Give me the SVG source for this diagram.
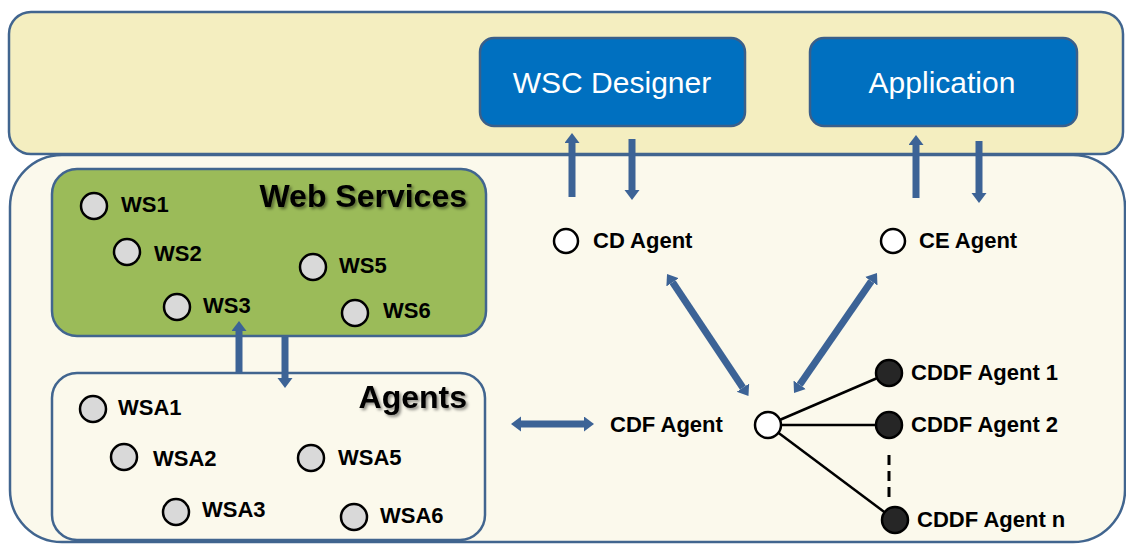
<svg xmlns="http://www.w3.org/2000/svg" width="1126" height="544" viewBox="0 0 1126 544">
  <style>
    .panel { stroke: #41658f; stroke-width: 2.5; }
    .blue { fill: #0070c0; stroke: #3a5f8a; stroke-width: 2.5; }
    .btitle { font-family: "Liberation Sans", Arial, sans-serif; font-size: 30px; fill: #ffffff; text-anchor: middle; }
    .lbl { font-family: "Liberation Sans", Arial, sans-serif; font-size: 22px; font-weight: bold; fill: #000000; }
    .big { font-family: "Liberation Sans", Arial, sans-serif; font-size: 32px; font-weight: bold; fill: #000000; text-anchor: end; }
    .gray { fill: #d9d9d9; stroke: #000000; stroke-width: 2.5; }
    .white { fill: #ffffff; stroke: #000000; stroke-width: 2.5; }
    .dark { fill: #262626; stroke: #000000; stroke-width: 2.5; }
    .flow { fill: none; stroke: #3c6396; stroke-width: 7; }
    .link { fill: none; stroke: #000000; stroke-width: 2.5; }
  </style>
  <defs>
    <marker id="head" markerUnits="userSpaceOnUse" markerWidth="12" markerHeight="16" refX="0" refY="7.5" orient="auto-start-reverse">
      <path d="M0,0 L10,7.5 L0,15 z" fill="#3c6396"/>
    </marker>
    <filter id="shadow" x="-10%" y="-20%" width="130%" height="150%">
      <feDropShadow dx="2" dy="2" stdDeviation="1.5" flood-color="#000000" flood-opacity="0.45"/>
    </filter>
  </defs>

  <!-- lower panel (agents layer) -->
  <rect id="agent-layer" class="panel" x="10" y="155" width="1115" height="387" rx="52" fill="#fbf9ec"/>
  <!-- upper panel (client layer) -->
  <rect id="client-layer" class="panel" x="9" y="12" width="1114" height="142" rx="22" fill="#f4eec0"/>

  <g id="wsc-designer">
    <rect class="blue" x="480" y="38" width="265" height="88" rx="14"/>
    <text class="btitle" x="612" y="93">WSC Designer</text>
  </g>
  <g id="application">
    <rect class="blue" x="810" y="38" width="267" height="88" rx="14"/>
    <text class="btitle" x="942" y="93">Application</text>
  </g>

  <g id="web-services">
    <rect class="panel" x="52" y="169" width="434" height="167" rx="25" fill="#9bbb59"/>
    <text class="big" x="467" y="207" filter="url(#shadow)">Web Services</text>
    <g id="ws1"><circle class="gray" cx="94" cy="206" r="13"/><text class="lbl" x="121" y="212">WS1</text></g>
    <g id="ws2"><circle class="gray" cx="127" cy="252" r="13"/><text class="lbl" x="154" y="261">WS2</text></g>
    <g id="ws3"><circle class="gray" cx="177" cy="307" r="13"/><text class="lbl" x="203" y="313">WS3</text></g>
    <g id="ws5"><circle class="gray" cx="313" cy="267" r="13"/><text class="lbl" x="339" y="273">WS5</text></g>
    <g id="ws6"><circle class="gray" cx="355" cy="313" r="13"/><text class="lbl" x="383" y="318">WS6</text></g>
  </g>

  <g id="agents">
    <rect class="panel" x="52" y="373" width="433" height="167" rx="25" fill="#fbf9ec"/>
    <text class="big" x="467" y="408" filter="url(#shadow)">Agents</text>
    <g id="wsa1"><circle class="gray" cx="93" cy="409" r="13"/><text class="lbl" x="118" y="415">WSA1</text></g>
    <g id="wsa2"><circle class="gray" cx="124" cy="457" r="13"/><text class="lbl" x="153" y="466">WSA2</text></g>
    <g id="wsa3"><circle class="gray" cx="176" cy="512" r="13"/><text class="lbl" x="202" y="517">WSA3</text></g>
    <g id="wsa5"><circle class="gray" cx="311" cy="458" r="13"/><text class="lbl" x="338" y="465">WSA5</text></g>
    <g id="wsa6"><circle class="gray" cx="354" cy="517" r="13"/><text class="lbl" x="380" y="523">WSA6</text></g>
  </g>

  <g id="connectors">
    <!-- client layer <-> CD / CE agents -->
    <path class="flow" d="M572,197 L572,143" marker-end="url(#head)"/>
    <path class="flow" d="M632,139 L632,190" marker-end="url(#head)"/>
    <path class="flow" d="M916,198 L916,145" marker-end="url(#head)"/>
    <path class="flow" d="M979,141 L979,193" marker-end="url(#head)"/>
    <!-- web services <-> agents -->
    <path class="flow" d="M239,373 L239,331" marker-end="url(#head)"/>
    <path class="flow" d="M285,337 L285,378" marker-end="url(#head)"/>
    <!-- agents <-> CDF agent -->
    <path class="flow" d="M521,424 L584,424" marker-start="url(#head)" marker-end="url(#head)"/>
    <!-- CD / CE agents <-> CDF agent -->
    <path class="flow" d="M672.6,282.3 L742.9,387.7" marker-start="url(#head)" marker-end="url(#head)"/>
    <path class="flow" d="M871.3,281.2 L799.7,384.8" marker-start="url(#head)" marker-end="url(#head)"/>
    <!-- CDF agent -> CDDF agents -->
    <line class="link" x1="768" y1="425" x2="889" y2="373"/>
    <line class="link" x1="768" y1="425" x2="889" y2="425"/>
    <line class="link" x1="768" y1="425" x2="895" y2="520"/>
    <line x1="889" y1="455" x2="889" y2="498" stroke="#000000" stroke-width="3" stroke-dasharray="10 6"/>
  </g>

  <g id="cd-agent"><circle class="white" cx="566" cy="241" r="12"/><text class="lbl" x="593" y="248">CD Agent</text></g>
  <g id="ce-agent"><circle class="white" cx="893" cy="241" r="12"/><text class="lbl" x="919" y="248">CE Agent</text></g>
  <g id="cdf-agent"><circle class="white" cx="768" cy="425" r="13"/><text class="lbl" x="610" y="432">CDF Agent</text></g>
  <g id="cddf-agent-1"><circle class="dark" cx="889" cy="373" r="13"/><text class="lbl" x="911" y="380">CDDF Agent 1</text></g>
  <g id="cddf-agent-2"><circle class="dark" cx="889" cy="425" r="13"/><text class="lbl" x="911" y="432">CDDF Agent 2</text></g>
  <g id="cddf-agent-n"><circle class="dark" cx="895" cy="520" r="13"/><text class="lbl" x="917" y="527">CDDF Agent n</text></g>
</svg>
